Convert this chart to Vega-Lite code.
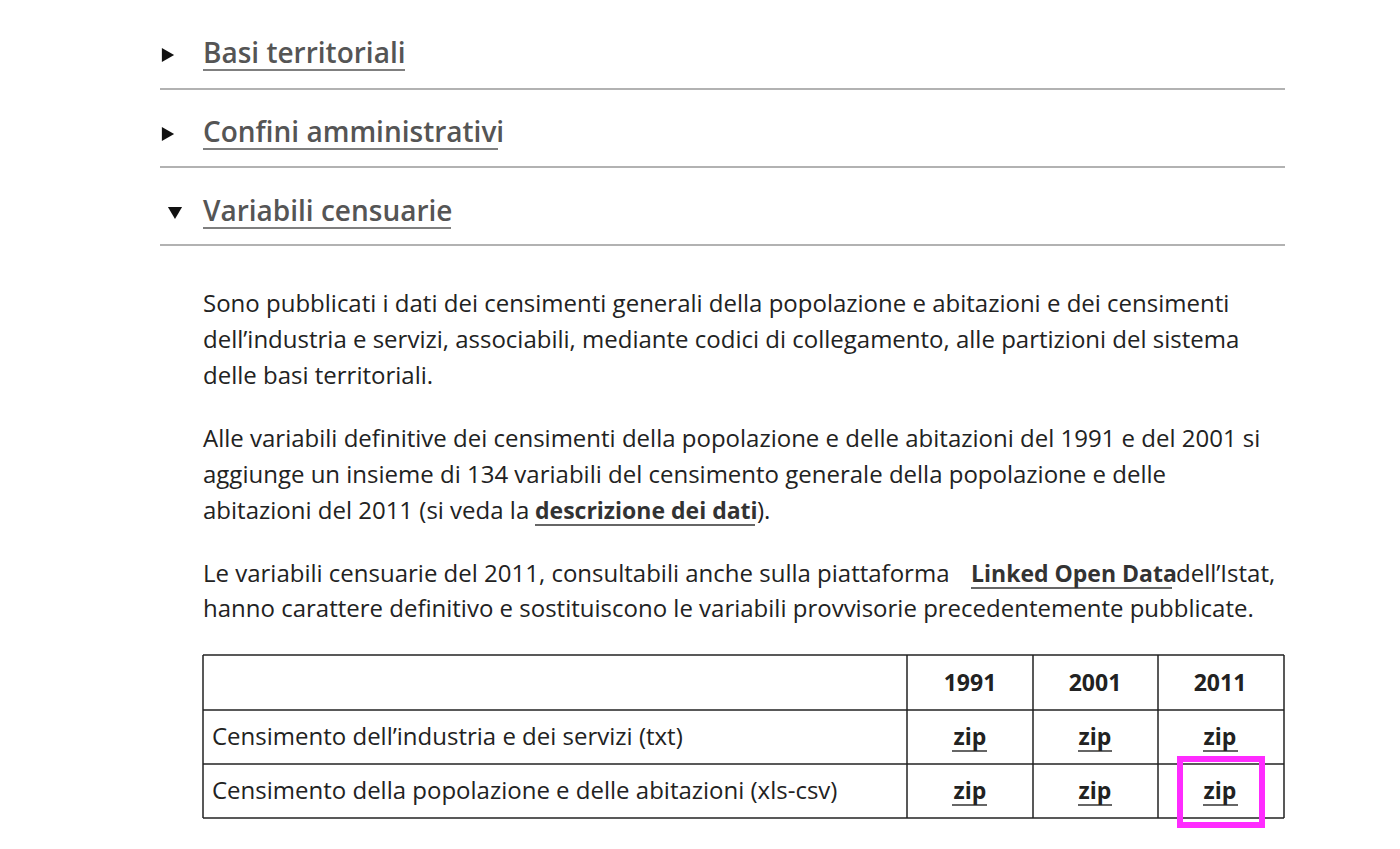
{
  "$schema": "https://vega.github.io/schema/vega-lite/v6.json",
  "autosize": {"type": "fit", "contains": "padding"},
  "width": 1400,
  "height": 849,
  "padding": 0,
  "background": "white",
  "config": {"view": {"stroke": null}},
  "datasets": {
    "lines": [
      {"x": 160, "x2": 1285, "y": 89, "y2": 89, "kind": "sep"},
      {"x": 160, "x2": 1285, "y": 167, "y2": 167, "kind": "sep"},
      {"x": 160, "x2": 1285, "y": 245, "y2": 245, "kind": "sep"},
      {"x": 203, "x2": 405, "y": 70, "y2": 70, "kind": "ul1"},
      {"x": 203, "x2": 498, "y": 149, "y2": 149, "kind": "ul1"},
      {"x": 203, "x2": 451, "y": 228, "y2": 228, "kind": "ul1"},
      {"x": 535, "x2": 755, "y": 525, "y2": 525, "kind": "ul2"},
      {"x": 971, "x2": 1172, "y": 588, "y2": 588, "kind": "ul2"},
      {"x": 952, "x2": 987, "y": 751, "y2": 751, "kind": "ul2"},
      {"x": 1078, "x2": 1112, "y": 751, "y2": 751, "kind": "ul2"},
      {"x": 1203, "x2": 1238, "y": 751, "y2": 751, "kind": "ul2"},
      {"x": 952, "x2": 987, "y": 805, "y2": 805, "kind": "ul2"},
      {"x": 1078, "x2": 1112, "y": 805, "y2": 805, "kind": "ul2"},
      {"x": 1203, "x2": 1238, "y": 805, "y2": 805, "kind": "ul2"},
      {"x": 203, "x2": 1284, "y": 655, "y2": 655, "kind": "grid"},
      {"x": 203, "x2": 1284, "y": 710, "y2": 710, "kind": "grid"},
      {"x": 203, "x2": 1284, "y": 764, "y2": 764, "kind": "grid"},
      {"x": 203, "x2": 1284, "y": 818, "y2": 818, "kind": "grid"},
      {"x": 203, "x2": 203, "y": 655, "y2": 818, "kind": "grid"},
      {"x": 907, "x2": 907, "y": 655, "y2": 818, "kind": "grid"},
      {"x": 1033, "x2": 1033, "y": 655, "y2": 818, "kind": "grid"},
      {"x": 1158, "x2": 1158, "y": 655, "y2": 818, "kind": "grid"},
      {"x": 1284, "x2": 1284, "y": 655, "y2": 818, "kind": "grid"}
    ],
    "arrows": [
      {"x": 168, "y": 55, "shape": "triangle-right"},
      {"x": 168, "y": 134, "shape": "triangle-right"},
      {"x": 175, "y": 213, "shape": "triangle-down"}
    ],
    "heads": [
      {"x": 203, "y": 55, "t": "Basi territoriali"},
      {"x": 203, "y": 134, "t": "Confini amministrativi"},
      {"x": 203, "y": 213, "t": "Variabili censuarie"}
    ],
    "body": [
      {"x": 203, "y": 305, "t": "Sono pubblicati i dati dei censimenti generali della popolazione e abitazioni e dei censimenti"},
      {"x": 203, "y": 341, "t": "dell’industria e servizi, associabili, mediante codici di collegamento, alle partizioni del sistema"},
      {"x": 203, "y": 377, "t": "delle basi territoriali."},
      {"x": 203, "y": 440, "t": "Alle variabili definitive dei censimenti della popolazione e delle abitazioni del 1991 e del 2001 si"},
      {"x": 203, "y": 476, "t": "aggiunge un insieme di 134 variabili del censimento generale della popolazione e delle"},
      {"x": 203, "y": 512, "t": "abitazioni del 2011 (si veda la"},
      {"x": 757, "y": 512, "t": ")."},
      {"x": 203, "y": 575, "t": "Le variabili censuarie del 2011, consultabili anche sulla piattaforma"},
      {"x": 1176, "y": 575, "t": "dell’Istat,"},
      {"x": 203, "y": 610, "t": "hanno carattere definitivo e sostituiscono le variabili provvisorie precedentemente pubblicate."},
      {"x": 212, "y": 738, "t": "Censimento dell’industria e dei servizi (txt)"},
      {"x": 212, "y": 792, "t": "Censimento della popolazione e delle abitazioni (xls-csv)"}
    ],
    "bold": [
      {"x": 535, "y": 512, "t": "descrizione dei dati"},
      {"x": 971, "y": 575, "t": "Linked Open Data"}
    ],
    "cells": [
      {"x": 970, "y": 684, "t": "1991"},
      {"x": 1095, "y": 684, "t": "2001"},
      {"x": 1220, "y": 684, "t": "2011"},
      {"x": 970, "y": 738, "t": "zip"},
      {"x": 1095, "y": 738, "t": "zip"},
      {"x": 1220, "y": 738, "t": "zip"},
      {"x": 970, "y": 792, "t": "zip"},
      {"x": 1095, "y": 792, "t": "zip"},
      {"x": 1220, "y": 792, "t": "zip"}
    ],
    "highlight": [{"x": 1180, "x2": 1262, "y": 759, "y2": 825}]
  },
  "encoding": {
    "x": {"field": "x", "type": "quantitative", "scale": {"domain": [0, 1400]}, "axis": null},
    "y": {"field": "y", "type": "quantitative", "scale": {"domain": [849, 0]}, "axis": null}
  },
  "layer": [
    {
      "data": {"name": "lines"},
      "transform": [{"filter": "datum.kind == 'sep'"}],
      "mark": {"type": "rule", "color": "#999", "strokeWidth": 1.5},
      "encoding": {"x2": {"field": "x2"}, "y2": {"field": "y2"}}
    },
    {
      "data": {"name": "lines"},
      "transform": [{"filter": "datum.kind == 'grid'"}],
      "mark": {"type": "rule", "color": "#222", "strokeWidth": 1.5},
      "encoding": {"x2": {"field": "x2"}, "y2": {"field": "y2"}}
    },
    {
      "data": {"name": "lines"},
      "transform": [{"filter": "datum.kind == 'ul1'"}],
      "mark": {"type": "rule", "color": "#555", "strokeWidth": 1.5},
      "encoding": {"x2": {"field": "x2"}, "y2": {"field": "y2"}}
    },
    {
      "data": {"name": "lines"},
      "transform": [{"filter": "datum.kind == 'ul2'"}],
      "mark": {"type": "rule", "color": "#333", "strokeWidth": 1.5},
      "encoding": {"x2": {"field": "x2"}, "y2": {"field": "y2"}}
    },
    {
      "data": {"name": "arrows"},
      "mark": {"type": "point", "filled": true, "color": "#111", "size": 200, "opacity": 1},
      "encoding": {"shape": {"field": "shape", "type": "nominal", "scale": null}}
    },
    {
      "data": {"name": "heads"},
      "mark": {"type": "text", "align": "left", "baseline": "middle", "font": "Open Sans", "fontSize": 28, "fontWeight": 600, "color": "#555"},
      "encoding": {"text": {"field": "t"}}
    },
    {
      "data": {"name": "body"},
      "mark": {"type": "text", "align": "left", "baseline": "middle", "font": "Open Sans", "fontSize": 24, "color": "#222"},
      "encoding": {"text": {"field": "t"}}
    },
    {
      "data": {"name": "bold"},
      "mark": {"type": "text", "align": "left", "baseline": "middle", "font": "Open Sans", "fontSize": 23, "fontWeight": "bold", "color": "#333"},
      "encoding": {"text": {"field": "t"}}
    },
    {
      "data": {"name": "cells"},
      "mark": {"type": "text", "align": "center", "baseline": "middle", "font": "Open Sans", "fontSize": 23, "fontWeight": "bold", "color": "#222"},
      "encoding": {"text": {"field": "t"}}
    },
    {
      "data": {"name": "highlight"},
      "mark": {"type": "rect", "fill": null, "stroke": "#ff2bff", "strokeWidth": 6},
      "encoding": {"x2": {"field": "x2"}, "y2": {"field": "y2"}}
    }
  ]
}
